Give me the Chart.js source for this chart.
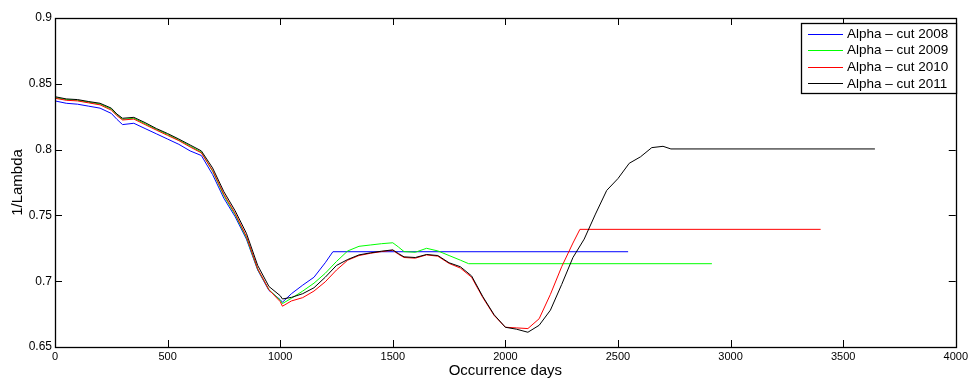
<!DOCTYPE html>
<html lang="en">

<head>
    <meta charset="UTF-8">
    <title>1/Lambda vs occurrence days</title>
    <style>
        body { margin: 0; background: #fff; }
    </style>
</head>

<body>
    <div>
        <canvas id="lambdaChart" width="971" height="378"></canvas>
    </div>

    <script src="https://cdn.jsdelivr.net/npm/chart.js"></script>
    <script>
        // values (x = occurrence days, y = 1/Lambda)
        const days2008 = [0, 50, 100, 150, 200, 250, 275, 300, 350, 400, 450, 500, 550, 600, 650, 700, 750, 800, 850, 900, 950, 1000, 1010, 1050, 1100, 1150, 1200, 1234, 2545];
        const alpha2008 = [0.8370, 0.8352, 0.8345, 0.8330, 0.8315, 0.8275, 0.8230, 0.8190, 0.8200, 0.8160, 0.8120, 0.8080, 0.8040, 0.7990, 0.7955, 0.7810, 0.7630, 0.7490, 0.7320, 0.7085, 0.6930, 0.6860, 0.6840, 0.6905, 0.6970, 0.7030, 0.7140, 0.7224, 0.7224];

        const days2009 = [0, 50, 100, 150, 200, 250, 275, 300, 350, 400, 450, 500, 550, 600, 650, 700, 750, 800, 850, 900, 950, 1000, 1010, 1050, 1100, 1150, 1200, 1250, 1300, 1350, 1400, 1450, 1500, 1525, 1550, 1600, 1650, 1700, 1750, 1800, 1837, 2917];
        const alpha2009 = [0.8395, 0.8380, 0.8375, 0.8360, 0.8346, 0.8308, 0.8265, 0.8230, 0.8238, 0.8197, 0.8154, 0.8115, 0.8073, 0.8027, 0.7980, 0.7835, 0.7650, 0.7505, 0.7330, 0.7090, 0.6935, 0.6855, 0.6830, 0.6870, 0.6925, 0.6985, 0.7060, 0.7150, 0.7230, 0.7265, 0.7275, 0.7285, 0.7292, 0.7260, 0.7225, 0.7220, 0.7250, 0.7230, 0.7195, 0.7160, 0.7133, 0.7133];

        const days2010 = [0, 50, 100, 150, 200, 250, 275, 300, 350, 400, 450, 500, 550, 600, 650, 700, 750, 800, 850, 900, 950, 1000, 1010, 1050, 1100, 1150, 1200, 1250, 1300, 1350, 1400, 1450, 1500, 1525, 1550, 1600, 1650, 1700, 1750, 1800, 1850, 1900, 1950, 2000, 2050, 2100, 2150, 2200, 2250, 2300, 2331, 3400];
        const alpha2010 = [0.8390, 0.8375, 0.8370, 0.8355, 0.8340, 0.8300, 0.8258, 0.8225, 0.8232, 0.8190, 0.8148, 0.8108, 0.8068, 0.8020, 0.7975, 0.7840, 0.7660, 0.7515, 0.7340, 0.7095, 0.6935, 0.6845, 0.6810, 0.6850, 0.6875, 0.6925, 0.6995, 0.7085, 0.7160, 0.7195, 0.7212, 0.7225, 0.7235, 0.7205, 0.7180, 0.7175, 0.7200, 0.7190, 0.7135, 0.7100, 0.7030, 0.6875, 0.6740, 0.6650, 0.6645, 0.6640, 0.6715, 0.6900, 0.7110, 0.7290, 0.7394, 0.7394];

        const days2011 = [0, 50, 100, 150, 200, 250, 275, 300, 350, 400, 450, 500, 550, 600, 650, 700, 750, 800, 850, 900, 950, 1000, 1010, 1050, 1100, 1150, 1200, 1250, 1300, 1350, 1400, 1450, 1500, 1525, 1550, 1600, 1650, 1700, 1750, 1800, 1850, 1900, 1950, 2000, 2050, 2100, 2150, 2200, 2250, 2300, 2350, 2400, 2450, 2500, 2550, 2600, 2650, 2700, 2735, 3641];
        const alpha2011 = [0.8402, 0.8385, 0.8380, 0.8365, 0.8352, 0.8315, 0.8270, 0.8238, 0.8245, 0.8205, 0.8160, 0.8122, 0.8080, 0.8035, 0.7990, 0.7860, 0.7680, 0.7535, 0.7364, 0.7120, 0.6960, 0.6890, 0.6865, 0.6877, 0.6905, 0.6950, 0.7030, 0.7120, 0.7165, 0.7200, 0.7215, 0.7228, 0.7238, 0.7210, 0.7185, 0.7180, 0.7203, 0.7195, 0.7140, 0.7110, 0.7040, 0.6882, 0.6745, 0.6650, 0.6635, 0.6612, 0.6665, 0.6780, 0.6975, 0.7180, 0.7320, 0.7510, 0.7690, 0.7780, 0.7896, 0.7945, 0.8015, 0.8025, 0.8005, 0.8005];

        const seriesLabels = ['Alpha \u2013 cut 2008', 'Alpha \u2013 cut 2009', 'Alpha \u2013 cut 2010', 'Alpha \u2013 cut 2011'];
        const seriesColors = ['rgb(0, 0, 255)', 'rgb(0, 255, 0)', 'rgb(255, 0, 0)', 'rgb(0, 0, 0)'];

        const xTitle = 'Occurrence days';
        const yTitle = '1/Lambda';

        const fontFamily = '"Liberation Sans", Arial, Helvetica, sans-serif';

        function toPoints(xs, ys) {
            return xs.map((x, i) => ({ x: x, y: ys[i] }));
        }

        const allDays = [days2008, days2009, days2010, days2011];
        const allValues = [alpha2008, alpha2009, alpha2010, alpha2011];

        const data = {
            datasets: seriesLabels.map((label, i) => ({
                label: label,
                data: toPoints(allDays[i], allValues[i]),
                borderColor: seriesColors[i],
                backgroundColor: seriesColors[i],
                borderWidth: 1,
                pointRadius: 0,
                tension: 0,
                fill: false,
                order: 3 - i
            }))
        };

        // matlab style box, inward ticks on all four sides, legend box in top right
        const matlabFrame = {
            id: 'matlabFrame',
            afterDraw(chart) {
                const ctx = chart.ctx;
                const a = chart.chartArea;
                const xs = chart.scales.x;
                const ys = chart.scales.y;
                const tick = 7;
                ctx.save();
                ctx.strokeStyle = '#000';
                ctx.lineWidth = 1;
                ctx.beginPath();
                xs.ticks.forEach(t => {
                    const px = Math.round(xs.getPixelForValue(t.value)) + 0.5;
                    ctx.moveTo(px, a.bottom);
                    ctx.lineTo(px, a.bottom - tick);
                    ctx.moveTo(px, a.top);
                    ctx.lineTo(px, a.top + tick);
                });
                ys.ticks.forEach(t => {
                    const py = Math.round(ys.getPixelForValue(t.value)) + 0.5;
                    ctx.moveTo(a.left, py);
                    ctx.lineTo(a.left + tick, py);
                    ctx.moveTo(a.right, py);
                    ctx.lineTo(a.right - tick, py);
                });
                ctx.stroke();
                ctx.lineWidth = 1.3;
                ctx.strokeRect(Math.round(a.left) + 0.5, Math.round(a.top) + 0.5, Math.round(a.right - a.left), Math.round(a.bottom - a.top));

                // legend
                const lx = 801, ly = 23, lw = 155, lh = 70;
                ctx.fillStyle = '#fff';
                ctx.fillRect(lx, ly, lw, lh);
                ctx.lineWidth = 1.3;
                ctx.strokeRect(lx + 0.5, ly + 0.5, lw, lh);
                ctx.font = '13.5px ' + fontFamily;
                ctx.textBaseline = 'middle';
                ctx.textAlign = 'left';
                chart.data.datasets.forEach((ds, i) => {
                    const y = ly + 10.5 + i * 16.6;
                    ctx.strokeStyle = ds.borderColor;
                    ctx.lineWidth = 1;
                    ctx.beginPath();
                    ctx.moveTo(808, Math.round(y) + 0.5);
                    ctx.lineTo(843, Math.round(y) + 0.5);
                    ctx.stroke();
                    ctx.fillStyle = '#000';
                    ctx.fillText(ds.label, 847, y + 0.5);
                });
                ctx.restore();
            }
        };

        const config = {
            type: 'line',
            data: data,
            options: {
                responsive: false,
                animation: false,
                layout: {
                    padding: { top: 18, right: 14, left: 0, bottom: 0 }
                },
                plugins: {
                    legend: { display: false },
                    tooltip: { enabled: false }
                },
                scales: {
                    x: {
                        type: 'linear',
                        min: 0,
                        max: 4000,
                        grid: { display: false, drawTicks: false },
                        border: { display: false },
                        ticks: {
                            stepSize: 500,
                            padding: 3,
                            color: '#000',
                            maxRotation: 0,
                            font: { family: fontFamily, size: 11 },
                            callback: v => String(v)
                        },
                        title: {
                            display: true,
                            text: xTitle,
                            color: '#000',
                            padding: 0,
                            font: { family: fontFamily, size: 15, lineHeight: 1 }
                        },
                        afterFit: s => { s.height = 31; }
                    },
                    y: {
                        min: 0.65,
                        max: 0.9,
                        grid: { display: false, drawTicks: false },
                        border: { display: false },
                        ticks: {
                            stepSize: 0.05,
                            padding: 3,
                            color: '#000',
                            font: { family: fontFamily, size: 12 },
                            callback: v => String(+v.toFixed(2))
                        },
                        title: {
                            display: true,
                            text: yTitle,
                            color: '#000',
                            padding: { top: 10.5, bottom: 0 },
                            font: { family: fontFamily, size: 15, lineHeight: 1 }
                        },
                        afterFit: s => { s.width = 55; }
                    }
                }
            },
            plugins: [matlabFrame]
        };
    </script>
    <script>
        const lambdaChart = new Chart(
            document.getElementById('lambdaChart'),
            config
        );
    </script>
</body>

</html>
